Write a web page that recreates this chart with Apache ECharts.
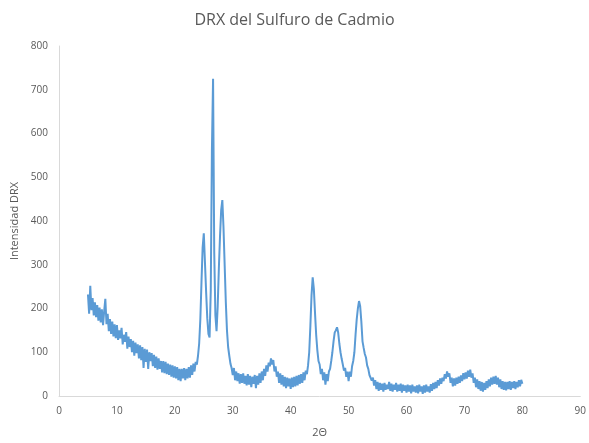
<!DOCTYPE html>
<html><head><meta charset="utf-8">
<script src="https://cdn.jsdelivr.net/npm/echarts@6/dist/echarts.min.js"></script>
<style>html,body{margin:0;padding:0;background:#fff}#c{width:589px;height:443px}</style>
</head><body><div id="c"></div>
<script>
// 2θ measurement grid: start and step (degrees)
var thetaStart = 5.0;
var thetaStep = 0.2;
// Intensity values, one per grid step, in 5-degree blocks
var int05 = [232,188,252,196,224,184,214,180,208,172,202,168,198,162,194,222,164,188,148,176,142,170,136,164,132];
var int10 = [162,128,150,132,156,118,140,124,146,108,136,112,130,100,126,92,122,98,118,86,116,82,112,64,108];
var int15 = [78,106,62,100,80,98,68,94,64,90,60,86,62,80,54,80,52,78,50,74,48,72,44,70,42];
var int20 = [68,40,66,36,62,34,62,40,64,36,62,40,66,42,70,48,74,56,78,72,92,120,175,260,340];
var int25 = [372,305,238,178,142,134,240,560,725,330,185,148,205,292,365,425,448,385,300,215,150,112,92,74,64];
var int30 = [48,64,36,56,34,52,28,50,30,52,28,46,24,50,26,46,20,44,28,48,18,46,26,52,30];
var int35 = [56,36,62,46,70,56,76,68,86,72,82,56,68,44,56,30,52,26,48,22,44,18,42,22,40];
var int40 = [16,42,20,44,22,46,24,48,28,50,30,54,36,58,50,70,100,160,230,271,245,190,140,105,80];
var int45 = [72,50,62,36,54,26,50,34,56,62,80,100,125,145,150,157,145,120,100,85,72,58,64,44,56];
var int50 = [34,56,44,68,80,100,140,175,200,217,205,170,125,110,96,88,70,62,48,52,35,42,24,36,16];
var int55 = [32,12,30,14,28,10,30,14,26,16,32,12,28,10,26,14,30,10,26,12,28,8,26,12,24];
var int60 = [8,26,10,24,6,26,10,22,8,24,6,26,10,22,5,24,8,26,10,22,8,27,12,30,16];
var int65 = [32,18,36,24,40,28,42,34,50,40,56,44,52,30,42,22,40,24,42,28,44,30,47,34,52];
var int70 = [38,54,40,58,44,60,42,52,30,42,20,38,16,34,12,32,10,30,14,34,18,38,22,42,26];
var int75 = [44,28,46,26,42,20,38,16,34,14,32,13,32,16,34,14,32,18,34,16,32,20,36,22,37,28];

// Axis ticks
var xTicks = {min:0, max:90, interval:10};
var yTicks = {min:0, max:800, interval:100};

var intensities = [].concat(int05,int10,int15,int20,int25,int30,int35,int40,int45,int50,int55,int60,int65,int70,int75);
var data = intensities.map(function(v,i){ return [+(thetaStart + i*thetaStep).toFixed(1), v]; });

var txt = '#595959', axisCol = '#d9d9d9', font = 'Open Sans';
var chart = echarts.init(document.getElementById('c'), null, {renderer:'canvas'});
chart.setOption({
  animation:false,
  title:{text:'DRX del Sulfuro de Cadmio', left:'center', top:7,
    textStyle:{color:txt, fontSize:16, fontWeight:'normal', fontFamily:font}},
  grid:{left:59, right:7, top:46, bottom:43, containLabel:false},
  xAxis:{type:'value', min:xTicks.min, max:xTicks.max, interval:xTicks.interval,
    name:'2Θ', nameLocation:'middle', nameGap:31,
    nameTextStyle:{color:txt, fontSize:11, fontFamily:font},
    axisLine:{show:true, lineStyle:{color:axisCol, width:1}},
    axisTick:{show:false}, splitLine:{show:false},
    axisLabel:{color:txt, fontSize:10, fontFamily:font, margin:10}},
  yAxis:{type:'value', min:yTicks.min, max:yTicks.max, interval:yTicks.interval,
    name:'Intensidad DRX', nameLocation:'middle', nameGap:34, nameRotate:90,
    nameTextStyle:{color:txt, fontSize:11, fontFamily:font},
    axisLine:{show:true, lineStyle:{color:axisCol, width:1}},
    axisTick:{show:false}, splitLine:{show:false},
    axisLabel:{color:txt, fontSize:10, fontFamily:font, margin:11}},
  series:[{type:'line', data:data, showSymbol:false, symbol:'none',
    lineStyle:{color:'#5B9BD5', width:2}, itemStyle:{color:'#5B9BD5'}}]
});
</script></body></html>
